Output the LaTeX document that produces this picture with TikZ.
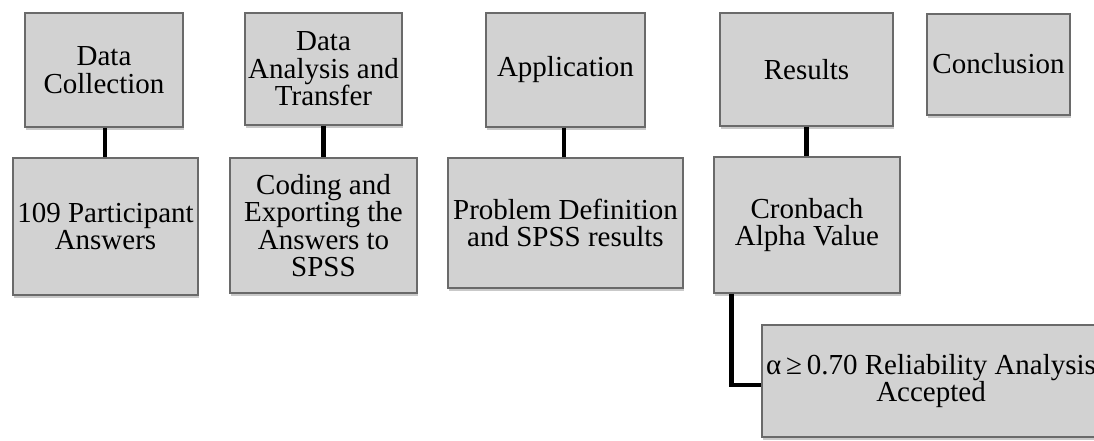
\documentclass[tikz,border=0pt]{standalone}
\usepackage{fontspec}
\setmainfont{Liberation Serif}
\usetikzlibrary{shadows,calc}
\definecolor{boxfill}{HTML}{D2D2D2}
\definecolor{boxline}{HTML}{6A6A6A}
\begin{document}
\begin{tikzpicture}[x=1pt,y=-1pt,
  box/.style={rectangle, draw=boxline, line width=1.2pt, fill=boxfill,
    inner sep=0pt, align=center, font=\fontsize{29}{27.5}\selectfont,
    drop shadow={shadow xshift=1pt, shadow yshift=-2.5pt, opacity=0.35, fill=black!60}},
  link/.style={line width=4.5pt, black}]
\fill[white] (0,0) rectangle (1094,440);
\useasboundingbox (0,0) rectangle (1094,440);

\node[box, minimum width=158pt, minimum height=114pt] (dc) at (104,70) {Data\\Collection};
\node[box, minimum width=185pt, minimum height=137pt] (pa) at (105.5,226.5) {109 Participant\\Answers};
\node[box, minimum width=157pt, minimum height=112pt] (da) at (323.5,69) {Data\\Analysis and\\Transfer};
\node[box, minimum width=187pt, minimum height=135pt] (co) at (323.5,225.5) {Coding and\\Exporting the\\Answers to\\SPSS};
\node[box, minimum width=159pt, minimum height=114pt] (ap) at (565.5,70) {Application};
\node[box, minimum width=235pt, minimum height=130pt] (pd) at (565.5,223) {Problem Definition\\and SPSS results};
\node[box, minimum width=173pt, minimum height=113pt] (re) at (806.5,69.5) {Results};
\node[box, minimum width=186pt, minimum height=136pt] (cr) at (807,225) {Cronbach\\Alpha Value};
\node[box, minimum width=143pt, minimum height=101pt] (cn) at (998.5,64.5) {\raisebox{3pt}{Conclusion}};
\node[box, minimum width=338pt, minimum height=112pt] (al) at (931,381) {α\,≥\,0.70 Reliability Analysis\\Accepted};

\coordinate (c1) at ($(dc.south)+(1,0)$);
\draw[link] (c1) -- (c1 |- pa.north);
\draw[link] (da.south) -- (da.south |- co.north);
\coordinate (c3) at ($(ap.south)+(-1.5,0)$);
\draw[link] (c3) -- (c3 |- pd.north);
\draw[link] (re.south) -- (re.south |- cr.north);
\coordinate (k) at ($(cr.south west)+(18,0)$);
\draw[link] (k) |- ($(al.west)+(0,4)$);
\end{tikzpicture}
\end{document}
